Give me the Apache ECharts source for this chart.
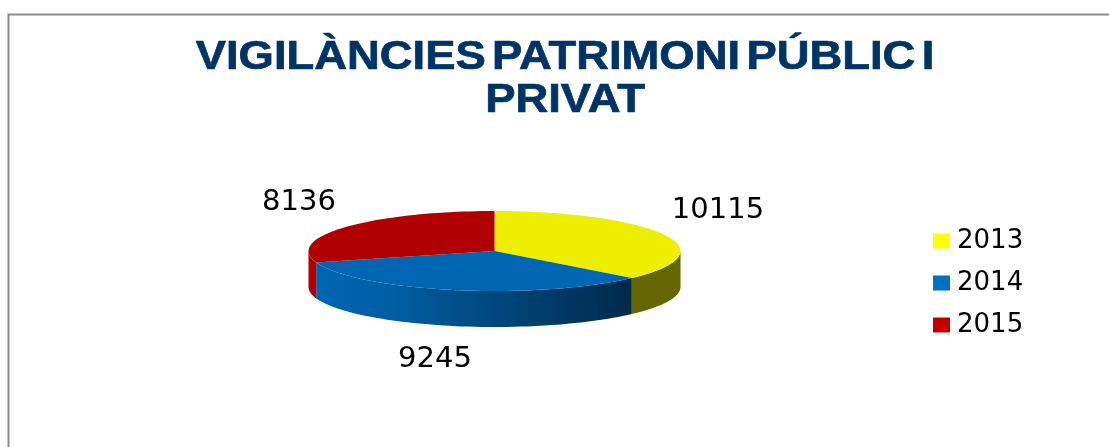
<!DOCTYPE html>
<html>
<head>
<meta charset="utf-8">
<style>
html, body { margin: 0; padding: 0; background: #fff; }
#main { width: 1109px; height: 447px; }
</style>
<script src="https://cdn.jsdelivr.net/npm/echarts@6/dist/echarts.min.js"></script>
</head>
<body>
<div id="main"></div>
<script>
var years = ['2013', '2014', '2015'];
var values = [10115, 9245, 8136];
var topColors = ['#eeee00', '#0066b3', '#b00000'];
var legendColors = ['#ffff00', '#0070c0', '#c00000'];

// the tilted pie: ellipse of the top face and height of the rim
var cx = 494.5, cy = 251, rx = 186, ry = 40, depth = 36;
var labelPos = [[718, 210], [435, 359], [299, 202]];

var total = values.reduce(function (a, b) { return a + b; }, 0);

function pointAt(deg, dy) {
    var r = deg * Math.PI / 180;
    return [cx + rx * Math.sin(r), cy - ry * Math.cos(r) + dy];
}

function arc(from, to, dy) {
    var pts = [];
    var n = Math.max(2, Math.ceil(Math.abs(to - from) / 2));
    for (var i = 0; i <= n; i++) {
        pts.push(pointAt(from + (to - from) * i / n, dy));
    }
    return pts;
}

function rimStyle(idx) {
    if (idx == 1) {
        return new echarts.graphic.LinearGradient(0, 0, 1, 0, [
            { offset: 0, color: '#0066b3' },
            { offset: 0.25, color: '#005da3' },
            { offset: 1, color: '#00294a' }
        ]);
    }
    return idx == 0 ? '#666600' : '#b00000';
}

function makeRender(idx) {
    return function (params, api) {
        var before = 0;
        for (var i = 0; i < idx; i++) before += values[i];
        var from = before / total * 360;
        var to = (before + api.value(0)) / total * 360;

        // only the part of the rim facing the viewer is visible (90..270 deg)
        var children = [];
        var a = Math.max(from, 90), b = Math.min(to, 270);
        if (b > a) {
            children.push({
                type: 'polygon',
                z2: 1,
                shape: { points: arc(a, b, 0).concat(arc(b, a, depth)) },
                style: { fill: rimStyle(idx) }
            });
        }
        children.push({
            type: 'polygon',
            z2: 2,
            shape: { points: [[cx, cy]].concat(arc(from, to, 0)) },
            style: { fill: topColors[idx] }
        });
        children.push({
            type: 'text',
            z2: 3,
            style: {
                text: String(api.value(0)),
                x: labelPos[idx][0],
                y: labelPos[idx][1],
                align: 'center',
                verticalAlign: 'middle',
                fill: '#000',
                font: '29px "DejaVu Sans"'
            }
        });
        return { type: 'group', children: children };
    };
}

var series = years.map(function (y, i) {
    return {
        name: y,
        type: 'custom',
        coordinateSystem: 'none',
        itemStyle: { color: legendColors[i] },
        renderItem: makeRender(i),
        data: [[values[i]]],
        silent: true,
        animation: false
    };
});

// title is stretched sideways in the original, with tight word gaps
function titleLine(text, y) {
    return {
        type: 'text',
        silent: true,
        x: 565,
        y: y,
        scaleX: 1.135,
        style: {
            text: text,
            align: 'center',
            verticalAlign: 'middle',
            fill: '#003366',
            stroke: '#003366',
            lineWidth: 0.7,
            font: 'bold 40px "Liberation Sans"',
            rich: {
                s: { font: 'bold 20px "Liberation Sans"' }
            }
        }
    };
}

var myChart = echarts.init(document.getElementById('main'), null, { renderer: 'canvas' });
myChart.setOption({
    backgroundColor: '#fff',
    animation: false,
    legend: {
        orient: 'vertical',
        left: 928,
        top: 223,
        itemWidth: 17,
        itemHeight: 15,
        itemGap: 16,
        icon: 'rect',
        data: years,
        selectedMode: false,
        textStyle: { color: '#000', fontFamily: 'DejaVu Sans', fontSize: 26, padding: [4, 0, 0, 2] }
    },
    graphic: [
        titleLine('VIGILÀNCIES{s| }PATRIMONI{s| }PÚBLIC{s| }I', 58),
        titleLine('PRIVAT', 101),
        {
            type: 'polyline',
            silent: true,
            shape: { points: [[8.5, 447], [8.5, 14.5], [1109, 14.5]] },
            style: { fill: null, stroke: '#8c8c8c', lineWidth: 2 }
        }
    ],
    series: series
});
</script>
</body>
</html>
